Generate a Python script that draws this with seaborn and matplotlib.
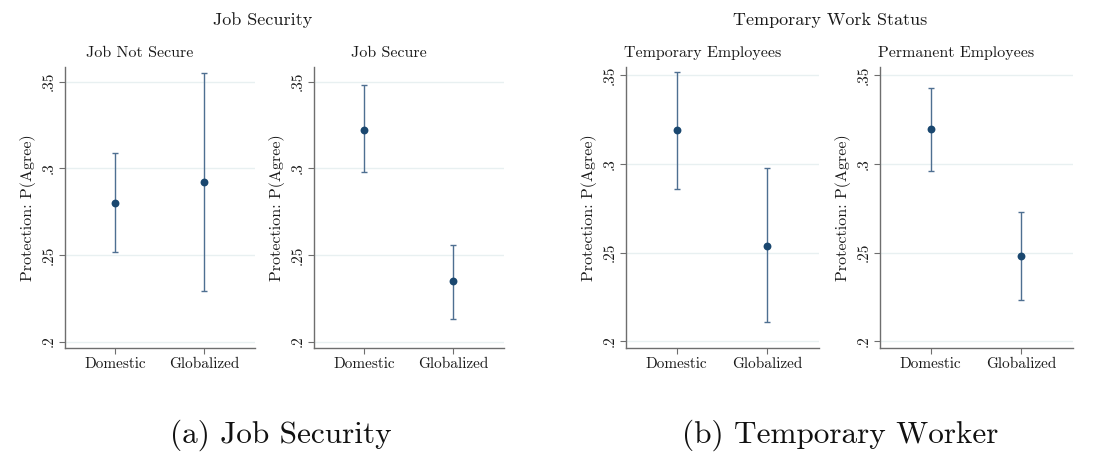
import matplotlib
matplotlib.use("Agg")
import matplotlib.pyplot as plt
import seaborn as sns
import pandas as pd
import numpy as np

# ---- data ----
categories = ["Domestic", "Globalized"]
panel_titles = ["Job Not Secure", "Job Secure", "Temporary Employees", "Permanent Employees"]
group_titles = ["Job Security", "Temporary Work Status"]
captions = ["(a) Job Security", "(b) Temporary Worker"]

est_job_not_secure = [0.280, 0.292]
lo_job_not_secure = [0.252, 0.229]
hi_job_not_secure = [0.309, 0.355]

est_job_secure = [0.322, 0.235]
lo_job_secure = [0.298, 0.213]
hi_job_secure = [0.348, 0.256]

est_temporary = [0.319, 0.254]
lo_temporary = [0.286, 0.211]
hi_temporary = [0.352, 0.298]

est_permanent = [0.320, 0.248]
lo_permanent = [0.296, 0.223]
hi_permanent = [0.343, 0.273]

y_ticks = [0.20, 0.25, 0.30, 0.35]
y_tick_labels = [".2", ".25", ".3", ".35"]
y_label = "Protection: P(Agree)"

panels = [
    (est_job_not_secure, lo_job_not_secure, hi_job_not_secure),
    (est_job_secure, lo_job_secure, hi_job_secure),
    (est_temporary, lo_temporary, hi_temporary),
    (est_permanent, lo_permanent, hi_permanent),
]

# ---- style ----
sns.set_theme(style="white")
plt.rcParams["font.family"] = ["cmr10", "DejaVu Serif"]
plt.rcParams["axes.formatter.use_mathtext"] = True
plt.rcParams["mathtext.fontset"] = "cm"

W, H = 1108, 455
fig = plt.figure(figsize=(W / 100, H / 100), dpi=100)

# axes boxes in pixels: (left, right)
boxes = [(65, 255), (314, 504), (626, 819), (880, 1073)]
top_px, bot_px = 67, 348
ylims = [(0.1963, 0.3585), (0.1963, 0.3585), (0.1962, 0.3547), (0.1962, 0.3547)]

dot_color = "#1a476f"
bar_color = "#4e6f91"
grid_color = "#e8f0f1"
spine_color = "#6e6e6e"

for i, ((l, r), (est, lo, hi)) in enumerate(zip(boxes, panels)):
    ax = fig.add_axes([l / W, 1 - bot_px / H, (r - l) / W, (bot_px - top_px) / H])
    df = pd.DataFrame({"cat": categories, "est": est, "lo": lo, "hi": hi})
    for yt in y_ticks:
        ax.axhline(yt, color=grid_color, lw=1.0, zorder=0)
    x = np.arange(len(categories))
    ax.errorbar(x, df["est"], yerr=[df["est"] - df["lo"], df["hi"] - df["est"]],
                fmt="none", ecolor=bar_color, elinewidth=1.0, capsize=2.3, capthick=1.0, zorder=2)
    sns.scatterplot(data=df, x=x, y="est", ax=ax, color=dot_color, s=32,
                    edgecolor=dot_color, linewidth=0, zorder=3, legend=False)
    ax.set_xlim(-0.56, 1.57)
    ax.set_ylim(*ylims[i])
    ax.set_xticks(x)
    ax.set_xticklabels(categories, fontsize=11)
    ax.set_yticks(y_ticks)
    ax.set_yticklabels(y_tick_labels, fontsize=11, rotation=90, va="center")
    ax.set_xlabel("")
    ax.set_ylabel(y_label, fontsize=11.5, labelpad=4)
    for s in ["top", "right"]:
        ax.spines[s].set_visible(False)
    for s in ["left", "bottom"]:
        ax.spines[s].set_color(spine_color)
        ax.spines[s].set_linewidth(1.0)
    ax.tick_params(axis="both", direction="out", length=4, width=0.8, color=spine_color,
                   left=True, bottom=True, pad=3, labelcolor="#1a1a1a")
    ax.yaxis.label.set_color("#1a1a1a")
    ax.grid(False)
    # panel title
    cx = (l + r) / 2 - 20
    fig.text(cx / W, 1 - 53 / H, panel_titles[i], ha="center", va="center",
             fontsize=11.5, color="#1a1a1a")

fig.text(263 / W, 1 - 20 / H, group_titles[0], ha="center", va="center", fontsize=13, color="#1a1a1a")
fig.text(830 / W, 1 - 20 / H, group_titles[1], ha="center", va="center", fontsize=13, color="#1a1a1a")
fig.text(281 / W, 1 - 435 / H, captions[0], ha="center", va="center", fontsize=22.5, color="#111111")
fig.text(840 / W, 1 - 435 / H, captions[1], ha="center", va="center", fontsize=22.5, color="#111111")

fig.savefig("out.png", dpi=100, facecolor="white")
